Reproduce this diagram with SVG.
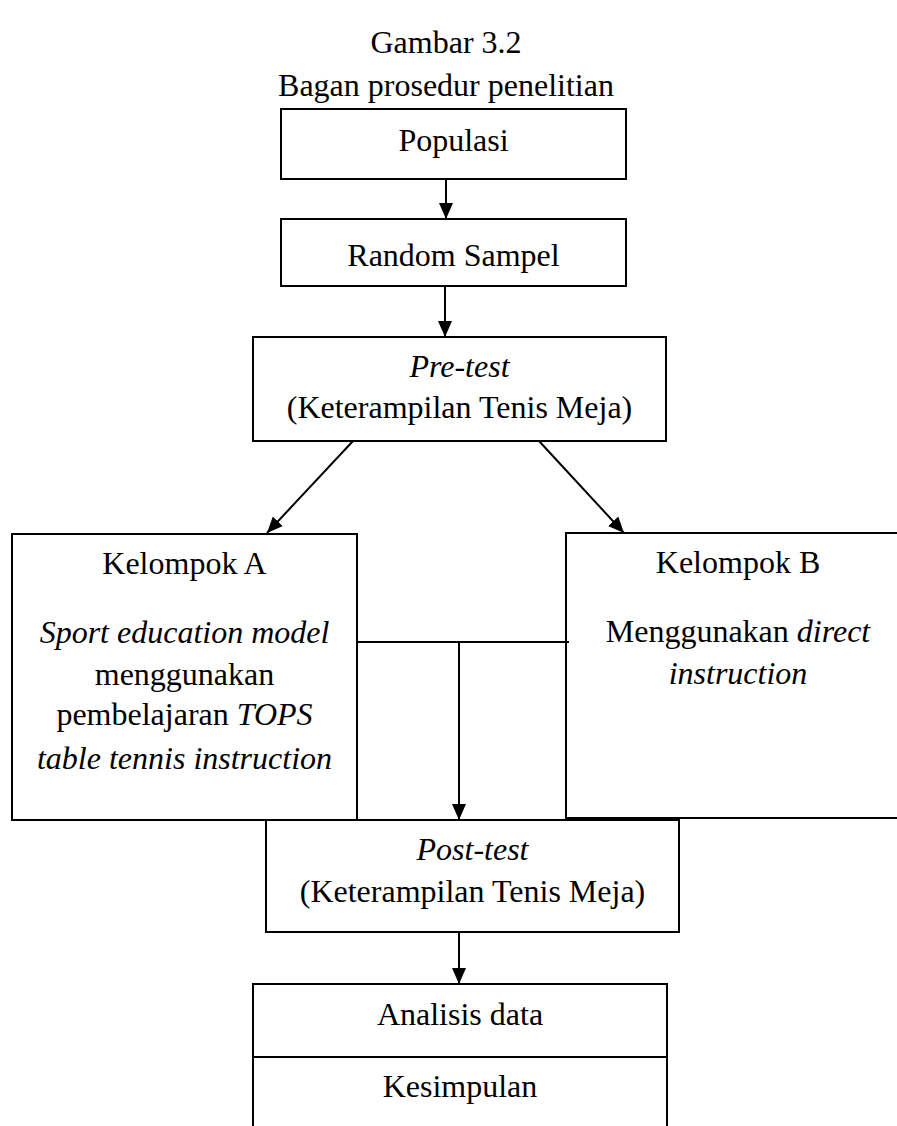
<svg xmlns="http://www.w3.org/2000/svg" width="897" height="1126" viewBox="0 0 897 1126">
<style>
  .box { fill: #fff; stroke: #000; stroke-width: 2; }
  .ln { fill: none; stroke: #000; stroke-width: 2; }
  text { font-family: "Liberation Serif", "Times New Roman", serif; font-size: 32px; fill: #000; text-anchor: middle; }
  .it { font-style: italic; }
</style>
<defs>
  <marker id="ah" markerUnits="userSpaceOnUse" markerWidth="16" markerHeight="14" viewBox="0 0 16 14" refX="16" refY="7" orient="auto">
    <path d="M0,0 L16,7 L0,14 Z" fill="#000"/>
  </marker>
</defs>
<rect width="897" height="1126" fill="#fff"/>
<g id="title">
  <text x="446" y="53">Gambar 3.2</text>
  <text x="446" y="96">Bagan prosedur penelitian</text>
</g>
<g id="populasi">
  <rect class="box" x="281" y="109" width="345" height="70"/>
  <text x="453.5" y="151">Populasi</text>
</g>
<g id="random">
  <rect class="box" x="281" y="219" width="345" height="67"/>
  <text x="453.5" y="266">Random Sampel</text>
</g>
<g id="pretest">
  <rect class="box" x="253" y="337" width="413" height="104"/>
  <text x="459.5" y="377" class="it">Pre-test</text>
  <text x="459.5" y="418">(Keterampilan Tenis Meja)</text>
</g>
<g id="kelompokA">
  <rect class="box" x="12" y="534" width="345" height="286"/>
  <text x="184.5" y="574">Kelompok A</text>
  <text x="184.5" y="643" class="it">Sport education model</text>
  <text x="184.5" y="685">menggunakan</text>
  <text x="184.5" y="725">pembelajaran <tspan class="it">TOPS</tspan></text>
  <text x="184.5" y="769" class="it">table tennis instruction</text>
</g>
<g id="kelompokB">
  <rect class="box" x="566" y="533" width="344" height="285"/>
  <text x="738" y="573">Kelompok B</text>
  <text x="738" y="642">Menggunakan <tspan class="it">direct</tspan></text>
  <text x="738" y="684" class="it">instruction</text>
</g>
<g id="posttest">
  <rect class="box" x="266" y="820" width="413" height="112"/>
  <text x="472.5" y="860" class="it">Post-test</text>
  <text x="472.5" y="902">(Keterampilan Tenis Meja)</text>
</g>
<g id="analisis">
  <rect class="box" x="253" y="984" width="414" height="160"/>
  <line class="ln" x1="253" y1="1057" x2="667" y2="1057"/>
  <text x="460" y="1025">Analisis data</text>
  <text x="460" y="1097">Kesimpulan</text>
</g>
<g id="connectors">
  <line class="ln" x1="446" y1="179" x2="446" y2="219" marker-end="url(#ah)"/>
  <line class="ln" x1="445" y1="286" x2="445" y2="337" marker-end="url(#ah)"/>
  <line class="ln" x1="353" y1="441" x2="267" y2="533" marker-end="url(#ah)"/>
  <line class="ln" x1="539" y1="441" x2="624" y2="533" marker-end="url(#ah)"/>
  <line class="ln" x1="357" y1="642" x2="569" y2="642"/>
  <line class="ln" x1="459" y1="642" x2="459" y2="820" marker-end="url(#ah)"/>
  <line class="ln" x1="459" y1="932" x2="459" y2="984" marker-end="url(#ah)"/>
</g>
</svg>
